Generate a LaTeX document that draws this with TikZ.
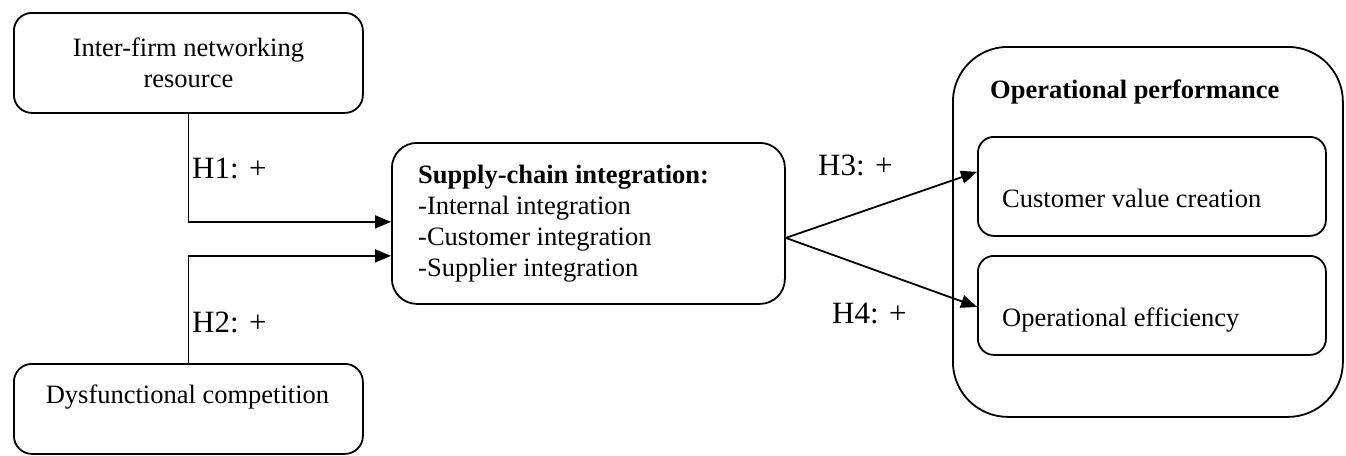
\documentclass[tikz,border=0pt]{standalone}
\usepackage{fontspec}
\setmainfont{Liberation Serif}
\usetikzlibrary{arrows.meta,calc}
\begin{document}
\begin{tikzpicture}[x=1pt,y=-1pt,
  box/.style={draw,line width=1.8pt,inner sep=0pt,anchor=north west},
  txt/.style={inner sep=0pt,font=\fontsize{26.5}{31}\selectfont},
  hlab/.style={inner sep=0pt,anchor=base west,font=\fontsize{31}{36}\selectfont},
  conn/.style={line width=1.8pt,-{Triangle[length=16pt,width=13pt]}}]
\useasboundingbox (0,0) rectangle (1346,455);
% left boxes
\node[box,rounded corners=18pt,minimum width=349pt,minimum height=100pt,txt,align=center] (b1) at (13,12) {Inter-firm networking\\resource};
\node[box,rounded corners=18pt,minimum width=349pt,minimum height=90pt] (b2) at (13,363) {};
\node[txt,anchor=base] (b2t) at (187.5,403) {Dysfunctional competition};
% central box
\node[box,rounded corners=25pt,minimum width=393pt,minimum height=161pt] (sci) at (391,142) {};
\node[txt,anchor=base west] (scit) at (418,183) {\textbf{Supply-chain integration:}};
\node[txt,anchor=base west] (sci1) at (418,214) {-Internal integration};
\node[txt,anchor=base west] (sci2) at (418,245) {-Customer integration};
\node[txt,anchor=base west] (sci3) at (418,276) {-Supplier integration};
% outer box
\node[box,rounded corners=55pt,minimum width=390pt,minimum height=370pt] (op) at (952,46) {};
\node[txt,anchor=base west] (opt) at (990,98) {\textbf{Operational performance}};
\node[box,rounded corners=16pt,minimum width=348pt,minimum height=99pt] (cvc) at (977,136) {};
\node[txt,anchor=base west] (cvct) at (1002,207) {Customer value creation};
\node[box,rounded corners=16pt,minimum width=348pt,minimum height=99pt] (oe) at (977,255) {};
\node[txt,anchor=base west] (oet) at (1002,326) {Operational efficiency};
% connectors
\draw[conn] (b1.south) |- ($(sci.west)+(0,-1.5)$);
\draw[conn] (b2.north) |- ($(sci.west)+(0,32.5)$);
\coordinate (sp) at ($(sci.east)+(0,14.5)$);
\draw[conn] (sp) -- ($(cvc.west)+(0,-14.5)$);
\draw[conn] (sp) -- ($(oe.west)+(0,1.5)$);
% labels
\node[hlab] (h1) at (192,178) {H1: +};
\node[hlab] (h2) at (192,332) {H2: +};
\node[hlab] (h3) at (818,175) {H3: +};
\node[hlab] (h4) at (832,323) {H4: +};
\end{tikzpicture}
\end{document}
